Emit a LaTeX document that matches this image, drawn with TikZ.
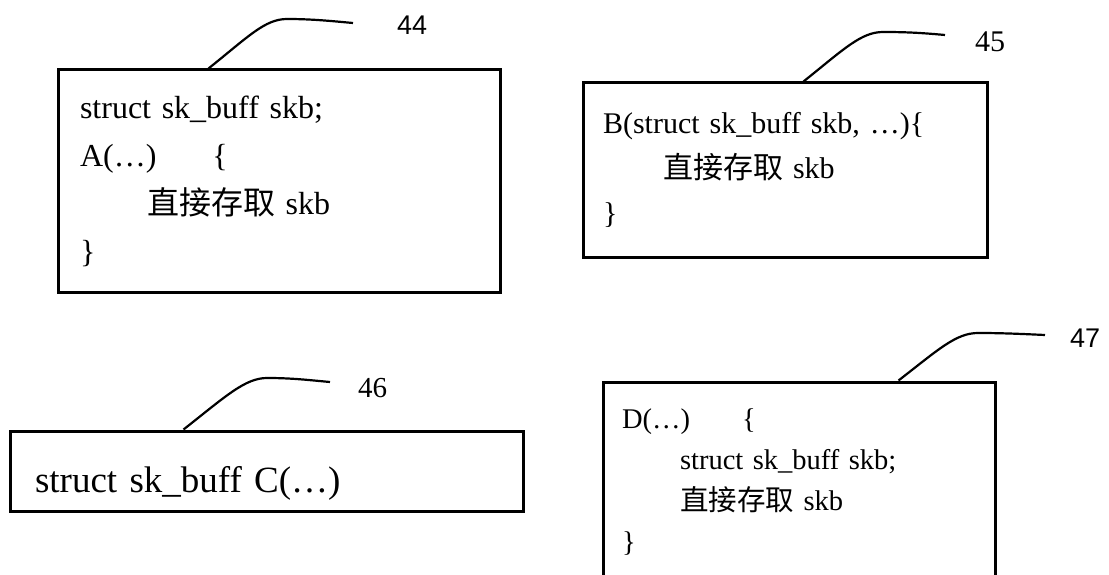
\documentclass[tikz,border=0pt]{standalone}
\usepackage{fontspec}
\setmainfont{Liberation Serif}
\newfontfamily\cjk{Noto Sans CJK SC}
\newfontfamily\numsans{Liberation Sans}
\usetikzlibrary{positioning}
\tikzset{
  codebox/.style={rectangle, draw=black, line width=3pt, align=left, inner ysep=0pt},
  num/.style={inner sep=0pt, text=black},
  leader/.style={line width=2.2pt, draw=black},
}

\begin{document}
\begin{tikzpicture}[x=1pt, y=-1pt]
    \useasboundingbox (0,0) rectangle (1109,575);
    % code boxes
    \node[codebox, minimum width=442pt, minimum height=222pt, inner xsep=22pt, text width=398pt,
          font=\fontsize{32}{48}\selectfont] (b44) at (279,181) {%
      struct sk\_buff skb;\\
      A(…)\hspace{56pt}\{\\
      \hspace*{67pt}{\cjk 直接存取} skb\\
      \}};
    \node[codebox, minimum width=404pt, minimum height=174pt, inner xsep=20pt, text width=364pt,
          font=\fontsize{30}{45}\selectfont] (b45) at (785,170) {%
      B(struct sk\_buff skb, …)\{\\
      \hspace*{60pt}{\cjk 直接存取} skb\\
      \}};
    \node[codebox, minimum width=513pt, minimum height=80pt, inner xsep=25pt, text width=463pt,
          text height=42pt, text depth=0pt, font=\fontsize{37}{44}\selectfont] (b46) at (266.5,471) {%
      struct sk\_buff C(…)};
    \node[codebox, minimum width=392pt, minimum height=200pt, inner xsep=19pt, text width=354pt,
          font=\fontsize{28.5}{41}\selectfont] (b47) at (799,482) {%
      D(…)\hspace{52pt}\{\\
      \hspace*{58pt}struct sk\_buff skb;\\
      \hspace*{58pt}{\cjk 直接存取} skb\\
      \}};
    % leader lines
    \coordinate (m44) at (287,19);  \coordinate (e44) at (353,23);
    \coordinate (m45) at (883,32);  \coordinate (e45) at (945,35);
    \coordinate (m46) at (267,378); \coordinate (e46) at (330,382);
    \coordinate (m47) at (978,333); \coordinate (e47) at (1045,335);
    \draw[leader] ([xshift=152pt]b44.north west) .. controls +(40,-32) and +(-22,0) .. (m44)
                  .. controls +(25,0) and +(-22,-2) .. (e44);
    \draw[leader] ([xshift=222pt]b45.north west) .. controls +(40,-32) and +(-22,0) .. (m45)
                  .. controls +(25,0) and +(-22,-2) .. (e45);
    \draw[leader] ([xshift=175pt]b46.north west) .. controls +(42,-33) and +(-22,0) .. (m46)
                  .. controls +(25,0) and +(-22,-2) .. (e46);
    \draw[leader] ([xshift=297pt]b47.north west) .. controls +(40,-31) and +(-22,0) .. (m47)
                  .. controls +(25,0) and +(-22,-1) .. (e47);
    % reference numbers
    \node[num, font=\numsans\fontsize{27}{30}\selectfont, right=44pt of e44, yshift=-2pt] (n44) {44};
    \node[num, font=\fontsize{30}{34}\selectfont, right=30pt of e45, yshift=-7pt] (n45) {45};
    \node[num, font=\fontsize{29}{34}\selectfont, right=28pt of e46, yshift=-6pt] (n46) {46};
    \node[num, font=\numsans\fontsize{27}{30}\selectfont, right=25pt of e47, yshift=-3pt] (n47) {47};
\end{tikzpicture}
\end{document}
